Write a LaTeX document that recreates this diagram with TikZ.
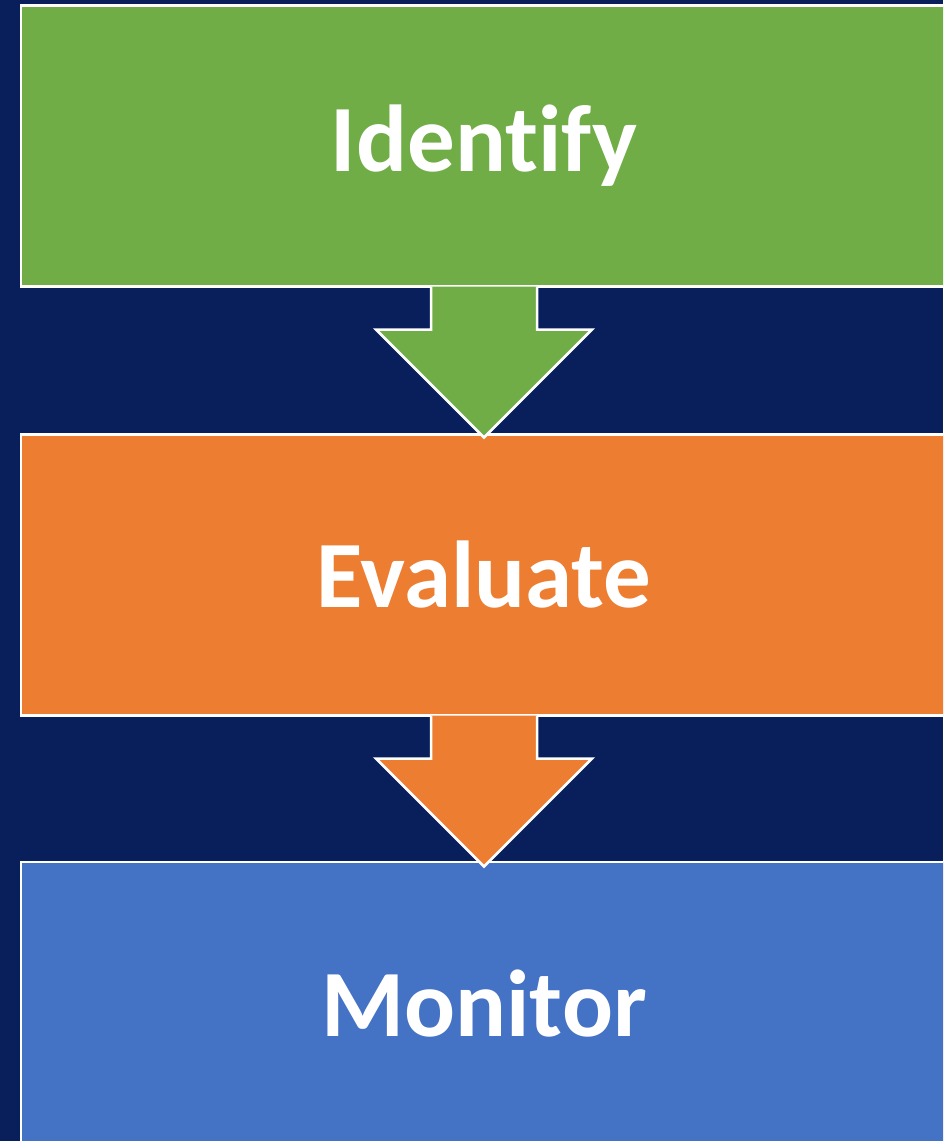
\documentclass[tikz,border=0pt]{standalone}
\usepackage{fontspec}
\setmainfont[Ligatures={NoCommon}]{Carlito}
\usetikzlibrary{calc}
\definecolor{navy}{RGB}{8,31,92}
\definecolor{sgreen}{RGB}{112,173,71}
\definecolor{sorange}{RGB}{237,125,49}
\definecolor{sblue}{RGB}{68,114,196}
\tikzset{
  stagebox/.style={draw=white, line width=2.5pt, minimum width=926pt, minimum height=281pt,
    inner sep=0pt, outer sep=0pt, text=white, font=\fontsize{95}{100}\selectfont\bfseries},
  downarrow/.style={draw=white, line width=2.5pt, line join=miter}
}
\begin{document}
\begin{tikzpicture}[x=1pt,y=-1pt]
\useasboundingbox (0,0) rectangle (943,1141);
\fill[navy] (0,0) rectangle (943,1141);
\clip (0,0) rectangle (943,1141);
\node[stagebox, fill=sgreen] (g) at (484,146) {Identify};
\node[stagebox, fill=sorange] (o) at (484,575) {Evaluate};
\node[stagebox, fill=sblue, minimum height=284pt] (b) at (484,1004) {Monitor};
\draw[downarrow, fill=sgreen]
  ($(g.south)+(-53,0)$) -- ($(g.south)+(-53,43)$) -- ($(g.south)+(-108,43)$)
  -- ($(g.south)+(0,151)$) -- ($(g.south)+(108,43)$) -- ($(g.south)+(53,43)$)
  -- ($(g.south)+(53,0)$);
\draw[downarrow, fill=sorange]
  ($(o.south)+(-53,0)$) -- ($(o.south)+(-53,43)$) -- ($(o.south)+(-108,43)$)
  -- ($(o.south)+(0,151)$) -- ($(o.south)+(108,43)$) -- ($(o.south)+(53,43)$)
  -- ($(o.south)+(53,0)$);
\end{tikzpicture}
\end{document}
